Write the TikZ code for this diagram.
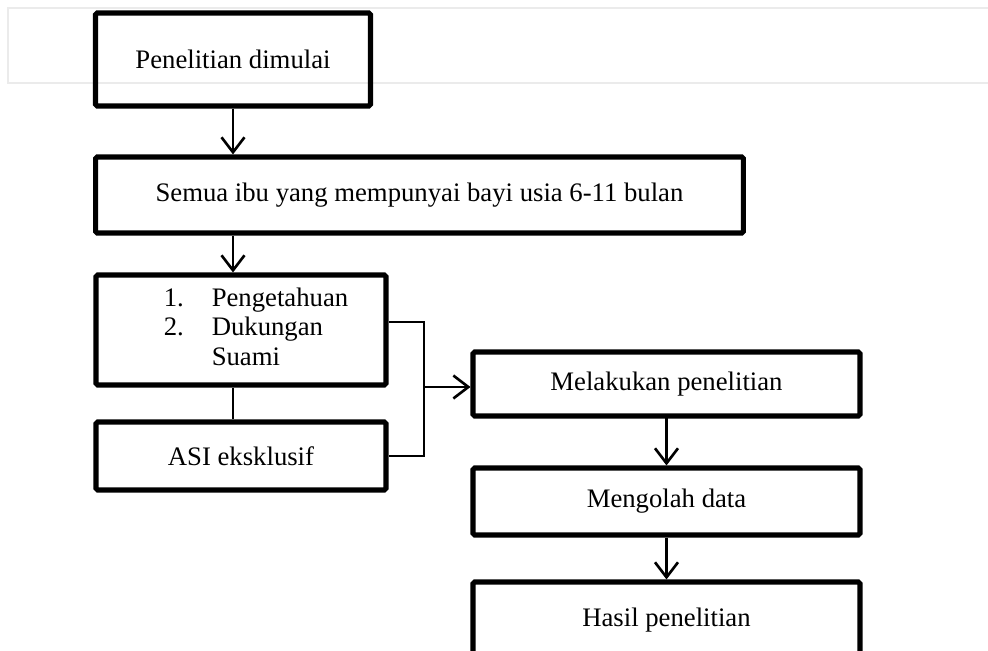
\documentclass[tikz,border=0pt]{standalone}
\usepackage{fontspec}
\setmainfont{Liberation Serif}
\usetikzlibrary{arrows.meta}

\begin{document}
\begin{tikzpicture}[x=0.02cm,y=-0.02cm,
    kotak/.style={draw,line width=2.9pt,rounded corners=1pt,inner sep=0pt,
      font=\fontsize{15.2}{17}\selectfont},
    panah/.style={-{Straight Barb[length=0.3cm,width=0.46cm]},line width=1.5pt},
    garis/.style={line width=1pt}]
  \useasboundingbox (0,0) rectangle (988,651);
  \draw[black!8,line width=0.6pt] (988,8) -- (8,8) -- (8,83) -- (988,83);
  \node[kotak,minimum width=5.5cm,minimum height=1.86cm] (mulai) at (233,59.5) {Penelitian dimulai};
  \node[kotak,minimum width=12.96cm,minimum height=1.52cm] (ibu) at (419.5,195)
    {Semua ibu yang mempunyai bayi usia 6-11 bulan};
  \node[kotak,minimum width=5.8cm,minimum height=2.2cm] (var) at (241,330)
    {\begin{tabular}{@{\hspace{0.6cm}}p{0.96cm}@{}l@{}}
      1. & Pengetahuan\\
      2. & Dukungan\\
         & Suami
    \end{tabular}};
  \node[kotak,minimum width=5.8cm,minimum height=1.36cm] (asi) at (241,456)
    {ASI eksklusif\hspace{0.28cm}};
  \node[kotak,minimum width=7.74cm,minimum height=1.28cm] (lakukan) at (666.5,384)
    {Melakukan penelitian};
  \node[kotak,minimum width=7.74cm,minimum height=1.34cm] (olah) at (666.5,501.5)
    {Mengolah data};
  \node[kotak,minimum width=7.74cm,minimum height=1.52cm] (hasil) at (666.5,620)
    {Hasil penelitian};
  \coordinate (temu) at (424,387);
  \draw[panah] (mulai.south) -- (mulai |- ibu.north);
  \draw[panah] (mulai |- ibu.south) -- (mulai |- var.north);
  \draw[garis] (mulai |- var.south) -- (mulai |- asi.north);
  \draw[garis] ([yshift=0.16cm]var.east) -| (temu) |- (asi.east);
  \draw[panah] (temu) -- (temu -| lakukan.west);
  \draw[panah] (lakukan) ++(0,32) -- (olah.north);
  \draw[panah] (olah.south) -- (hasil.north);
\end{tikzpicture}
\end{document}
